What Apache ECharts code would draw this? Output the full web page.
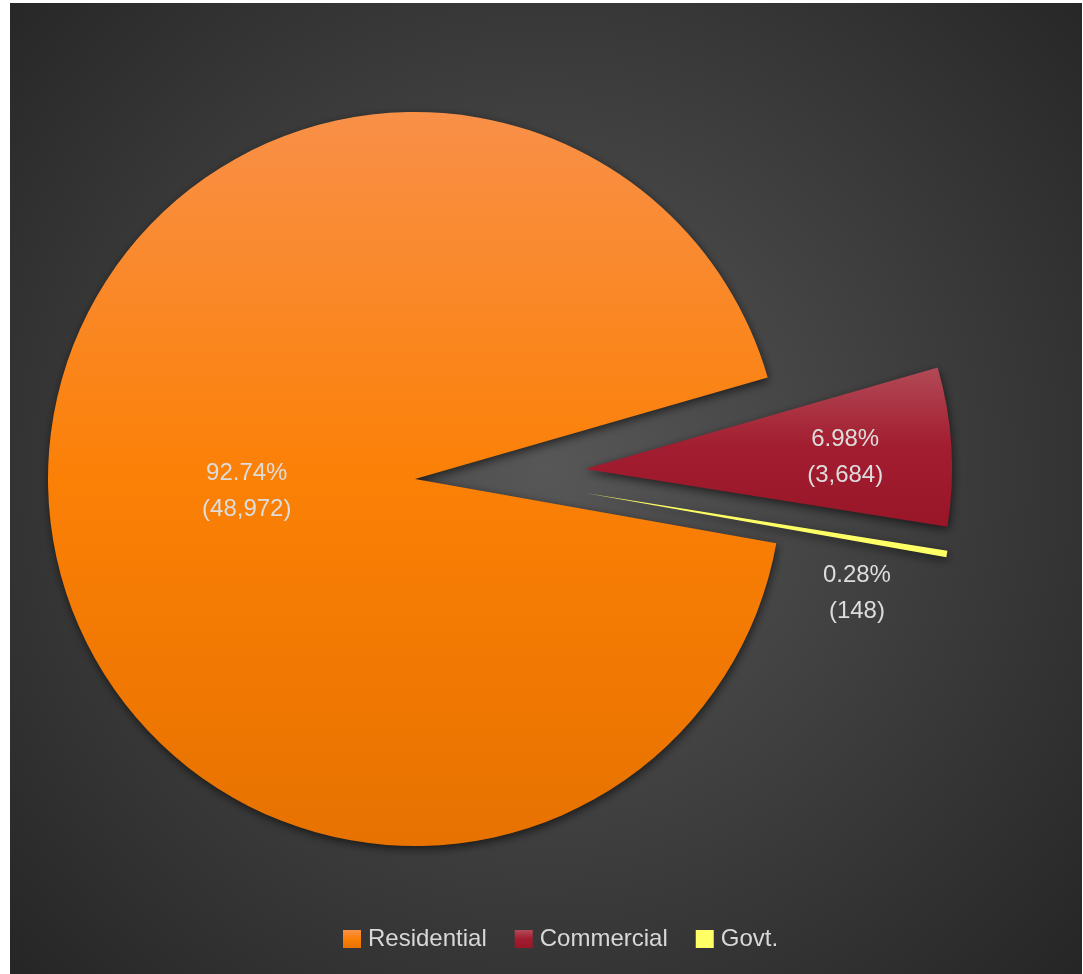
<!DOCTYPE html>
<html>
<head>
<meta charset="utf-8">
<script src="https://cdn.jsdelivr.net/npm/echarts@6/dist/echarts.min.js"></script>
<style>
  html, body { margin: 0; padding: 0; background: #ffffff; }
  #chart { position: absolute; left: 10px; top: 3px; width: 1072px; height: 971px; }
</style>
</head>
<body>
<div id="chart"></div>
<script>
// Connections by consumer category
const categories = ['Residential', 'Commercial', 'Govt.'];
const counts = [48972, 3684, 148];

const FONT = "'Liberation Sans Narrow', 'Liberation Sans', Arial, sans-serif";

function vGrad(top, mid, bottom) {
  return new echarts.graphic.LinearGradient(0, 0, 0, 1, [
    { offset: 0, color: top },
    { offset: 0.5, color: mid },
    { offset: 1, color: bottom }
  ]);
}

const fills = [
  vGrad('#f99048', '#fb8006', '#e77200'),
  vGrad('#b24a56', '#a21d2f', '#981628'),
  '#ffff66'
];

// each slice sits in its own layer so exploded slices can have their own centre
const centers = [[405, 476], [575, 466], [575, 490]];
// nudges from the default inside label anchor
const labelShift = [[18, 3], [74, 0], [88, 69]];

function sliceSeries(k) {
  return {
    type: 'pie',
    radius: 367,
    center: centers[k],
    startAngle: -10.08,
    clockwise: true,
    avoidLabelOverlap: false,
    animation: false,
    emphasis: { disabled: true },
    labelLine: { show: false },
    labelLayout: { dx: labelShift[k][0], dy: labelShift[k][1] },
    data: categories.map((name, i) => ({
      name: name,
      value: counts[i],
      itemStyle: i === k ? {
        color: fills[i],
        shadowBlur: 10,
        shadowOffsetX: 1,
        shadowOffsetY: 3,
        shadowColor: 'rgba(0,0,0,0.6)'
      } : { color: 'rgba(0,0,0,0)' },
      label: { show: i === k }
    })),
    label: {
      position: 'inside',
      fontFamily: FONT,
      fontSize: 24,
      lineHeight: 36,
      color: '#dddddd',
      formatter: p => p.percent.toFixed(2) + '%\n(' + p.value.toLocaleString('en-US') + ')'
    }
  };
}

const chart = echarts.init(document.getElementById('chart'));
chart.setOption({
  backgroundColor: new echarts.graphic.RadialGradient(0.5, 0.48, 0.75, [
    { offset: 0, color: '#575757' },
    { offset: 1, color: '#262626' }
  ]),
  legend: {
    left: 328,
    top: 919,
    selectedMode: false,
    itemWidth: 18,
    itemHeight: 18,
    itemGap: 28,
    icon: 'rect',
    textStyle: { fontFamily: FONT, fontSize: 24, lineHeight: 24, color: '#d8d8d8', padding: [0, 0, 0, 2] },
    data: categories.map((name, i) => ({ name: name, itemStyle: { color: fills[i] } }))
  },
  series: [0, 1, 2].map(sliceSeries)
});
</script>
</body>
</html>
